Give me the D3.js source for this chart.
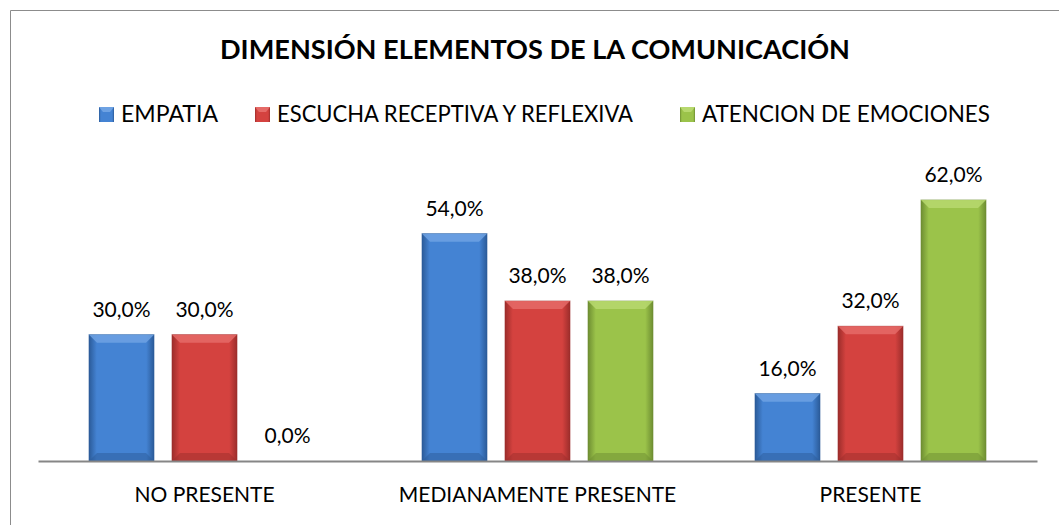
<!DOCTYPE html>
<html>
<head>
<meta charset="utf-8">
<script src="https://cdn.jsdelivr.net/npm/d3@7"></script>
<style>
  body { margin: 0; background: #fff; }
  text { font-family: Lato, "Open Sans", sans-serif; fill: #000; }
</style>
</head>
<body>
<div id="chart"></div>
<script>
var categories = ["NO PRESENTE", "MEDIANAMENTE PRESENTE", "PRESENTE"];
var seriesNames = ["EMPATIA", "ESCUCHA RECEPTIVA Y REFLEXIVA", "ATENCION DE EMOCIONES"];
var empatia = [30, 54, 16];
var escucha = [30, 38, 32];
var atencion = [0, 38, 62];
var chartTitle = "DIMENSIÓN ELEMENTOS DE LA COMUNICACIÓN";

var seriesValues = [empatia, escucha, atencion];
var colors = [
  {mid: "#4483d3", dark: "#2b5b99", light: "#6ea2e3"},
  {mid: "#d4423f", dark: "#9c2d2b", light: "#e56a67"},
  {mid: "#9bc34a", dark: "#6e8e32", light: "#b7d86e"}
];

var width = 1059, height = 525;
var margin = {top: 165, left: 38, right: 22, bottom: 64};

var svg = d3.select("#chart").append("svg")
    .attr("width", width)
    .attr("height", height);

// frame
svg.append("path")
    .attr("d", "M10.5,530 V10.5 H1070")
    .attr("fill", "none")
    .attr("stroke", "#8c8c8c")
    .attr("stroke-width", 1);

var defs = svg.append("defs");
colors.forEach(function(c, i) {
  var g = defs.append("linearGradient").attr("id", "grad" + i)
      .attr("x1", "0").attr("x2", "1").attr("y1", "0").attr("y2", "0");
  g.append("stop").attr("offset", "0").attr("stop-color", c.dark);
  g.append("stop").attr("offset", "0.12").attr("stop-color", c.mid);
  g.append("stop").attr("offset", "0.88").attr("stop-color", c.mid);
  g.append("stop").attr("offset", "1").attr("stop-color", c.dark);
});

var x0 = d3.scaleBand()
    .domain(categories)
    .range([margin.left, width - margin.right])
    .paddingInner(0)
    .paddingOuter(0);

var x1 = d3.scaleBand()
    .domain(d3.range(seriesNames.length))
    .range([51, x0.bandwidth() - 51])
    .paddingInner(18 / 83);

var baseline = height - margin.bottom;
var y = d3.scaleLinear()
    .domain([0, 70])
    .range([baseline, baseline - 70 * 4.21]);

// title
svg.append("text")
    .attr("x", 535)
    .attr("y", 59)
    .attr("text-anchor", "middle")
    .attr("font-size", 26)
    .attr("font-weight", "bold")
    .attr("textLength", 630)
    .attr("lengthAdjust", "spacingAndGlyphs")
    .text(chartTitle);

// legend
var legendX = [99, 255, 680];
var legendW = [97, 356, 288];
var legend = svg.selectAll(".legend")
    .data(seriesNames)
  .enter().append("g")
    .attr("class", "legend")
    .attr("transform", function(d, i) { return "translate(" + legendX[i] + ",107)"; });

legend.append("rect")
    .attr("width", 15).attr("height", 15)
    .attr("fill", function(d, i) { return "url(#grad" + i + ")"; });
legend.append("path")
    .attr("d", "M0,0 H15 L11,5 H4 Z")
    .attr("fill", function(d, i) { return colors[i].light; });

legend.append("text")
    .attr("x", 22)
    .attr("y", 15)
    .attr("font-size", 23)
    .attr("textLength", function(d, i) { return legendW[i]; })
    .attr("lengthAdjust", "spacingAndGlyphs")
    .text(function(d) { return d; });

// bars
var groups = svg.selectAll(".group")
    .data(categories)
  .enter().append("g")
    .attr("class", "group")
    .attr("transform", function(d) { return "translate(" + x0(d) + ",0)"; });

var bars = groups.selectAll(".bar")
    .data(function(d, ci) {
      return seriesValues.map(function(vals, si) { return {s: si, v: vals[ci]}; });
    })
  .enter().append("g")
    .attr("class", "bar");

bars.filter(function(d) { return d.v > 0; }).each(function(d) {
  var g = d3.select(this);
  var bx = x1(d.s), bw = x1.bandwidth(), top = y(d.v), bh = baseline - top;
  var c = colors[d.s];
  g.append("rect")
      .attr("x", bx).attr("y", top)
      .attr("width", bw).attr("height", bh)
      .attr("fill", "url(#grad" + d.s + ")")
      .attr("stroke", c.dark)
      .attr("stroke-opacity", 0.6);
  // top bevel
  g.append("path")
      .attr("d", "M" + bx + "," + top + " L" + (bx + bw) + "," + top +
                 " L" + (bx + bw - 8) + "," + (top + 8) + " L" + (bx + 8) + "," + (top + 8) + "Z")
      .attr("fill", c.light)
      .attr("opacity", 0.85);
  // bottom bevel
  g.append("path")
      .attr("d", "M" + bx + "," + baseline + " L" + (bx + bw) + "," + baseline +
                 " L" + (bx + bw - 8) + "," + (baseline - 8) + " L" + (bx + 8) + "," + (baseline - 8) + "Z")
      .attr("fill", c.dark)
      .attr("opacity", 0.5);
});

bars.append("text")
    .attr("x", function(d) { return x1(d.s) + x1.bandwidth() / 2; })
    .attr("y", function(d) { return y(d.v) - 18; })
    .attr("text-anchor", "middle")
    .attr("font-size", 21)
    .text(function(d) { return d.v.toFixed(1).replace(".", ",") + "%"; });

// axis
var xAxis = svg.append("g")
    .attr("transform", "translate(0," + baseline + ")")
    .call(d3.axisBottom(x0).tickSize(0).tickPadding(26));
xAxis.select(".domain").attr("stroke", "#868686").attr("stroke-width", 2);
xAxis.selectAll(".tick text")
    .attr("font-size", 21)
    .attr("font-family", "Lato, 'Open Sans', sans-serif")
    .attr("fill", "#000");
</script>
</body>
</html>
